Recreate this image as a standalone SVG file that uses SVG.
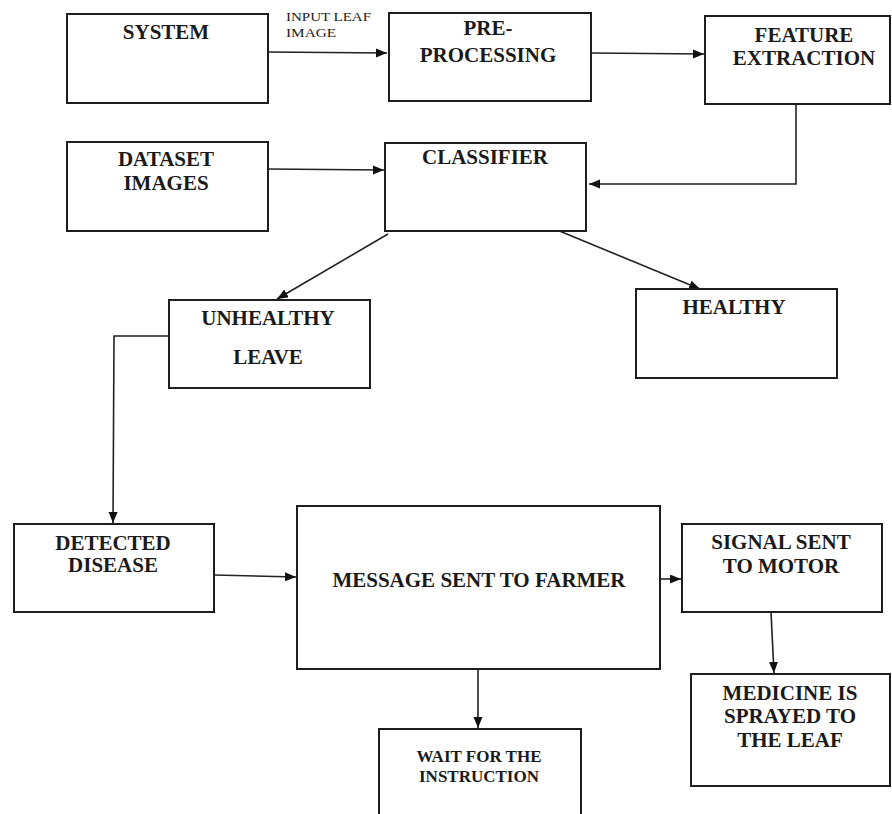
<svg xmlns="http://www.w3.org/2000/svg" width="892" height="814" viewBox="0 0 892 814">
<defs>
<style>
.box{fill:#fff;stroke:#1e1e1e;stroke-width:2}
.lbl{font-family:"Liberation Serif","Times New Roman",serif;font-weight:bold;font-size:21px;fill:#1a1a1a;text-anchor:middle}
.sm{font-size:17px}
.edge{fill:none;stroke:#222;stroke-width:1.6}
.note{font-family:"Liberation Serif","Times New Roman",serif;font-size:13px;fill:#1a1a1a}
</style>
<marker id="ah" markerUnits="userSpaceOnUse" markerWidth="12" markerHeight="10" refX="11" refY="4.5" orient="auto">
<path d="M0,0 L11,4.5 L0,9 z" fill="#111"/>
</marker>
</defs>
<rect width="892" height="814" fill="#fff"/>

<g id="connectors">
<path class="edge" d="M268,52 L387,53" marker-end="url(#ah)"/>
<path class="edge" d="M591,53 L704,54" marker-end="url(#ah)"/>
<path class="edge" d="M796,104 L796,184 L589,184" marker-end="url(#ah)"/>
<path class="edge" d="M268,169 L384,170" marker-end="url(#ah)"/>
<path class="edge" d="M388,234 L277,299" marker-end="url(#ah)"/>
<path class="edge" d="M557,230 L700,289" marker-end="url(#ah)"/>
<path class="edge" d="M169,336 L114,336 L113,523" marker-end="url(#ah)"/>
<path class="edge" d="M214,575 L296,577" marker-end="url(#ah)"/>
<path class="edge" d="M660,579 L681,579" marker-end="url(#ah)"/>
<path class="edge" d="M771,612 L774,673" marker-end="url(#ah)"/>
<path class="edge" d="M478,669 L478,728" marker-end="url(#ah)"/>
<text class="note" x="286" y="21" textLength="85" lengthAdjust="spacingAndGlyphs">INPUT LEAF</text>
<text class="note" x="286" y="37" textLength="50" lengthAdjust="spacingAndGlyphs">IMAGE</text>
</g>

<g id="system">
<rect class="box" x="67" y="14" width="201" height="89"/>
<text class="lbl" x="166" y="39">SYSTEM</text>
</g>
<g id="preprocessing">
<rect class="box" x="389" y="13" width="202" height="88"/>
<text class="lbl" x="488" y="35">PRE-</text>
<text class="lbl" x="488" y="62">PROCESSING</text>
</g>
<g id="feature-extraction">
<rect class="box" x="705" y="16" width="185" height="88"/>
<text class="lbl" x="804" y="42">FEATURE</text>
<text class="lbl" x="804" y="65">EXTRACTION</text>
</g>
<g id="dataset-images">
<rect class="box" x="67" y="142" width="201" height="89"/>
<text class="lbl" x="166" y="166">DATASET</text>
<text class="lbl" x="166" y="190">IMAGES</text>
</g>
<g id="classifier">
<rect class="box" x="385" y="143" width="201" height="88"/>
<text class="lbl" x="485" y="164">CLASSIFIER</text>
</g>
<g id="unhealthy-leave">
<rect class="box" x="169" y="300" width="201" height="88"/>
<text class="lbl" x="268" y="325">UNHEALTHY</text>
<text class="lbl" x="268" y="364">LEAVE</text>
</g>
<g id="healthy">
<rect class="box" x="636" y="289" width="201" height="89"/>
<text class="lbl" x="734" y="314">HEALTHY</text>
</g>
<g id="detected-disease">
<rect class="box" x="14" y="524" width="200" height="88"/>
<text class="lbl" x="113" y="550">DETECTED</text>
<text class="lbl" x="113" y="572">DISEASE</text>
</g>
<g id="message-sent">
<rect class="box" x="297" y="506" width="363" height="163"/>
<text class="lbl" x="479" y="587">MESSAGE SENT TO FARMER</text>
</g>
<g id="signal-sent">
<rect class="box" x="682" y="524" width="200" height="88"/>
<text class="lbl" x="781" y="549">SIGNAL SENT</text>
<text class="lbl" x="781" y="573">TO MOTOR</text>
</g>
<g id="medicine-sprayed">
<rect class="box" x="691" y="674" width="199" height="112"/>
<text class="lbl" x="790" y="700">MEDICINE IS</text>
<text class="lbl" x="790" y="723">SPRAYED TO</text>
<text class="lbl" x="790" y="747">THE LEAF</text>
</g>
<g id="wait-instruction">
<rect class="box" x="379" y="729" width="202" height="100"/>
<text class="lbl sm" x="479" y="762">WAIT FOR THE</text>
<text class="lbl sm" x="479" y="782">INSTRUCTION</text>
</g>
</svg>
